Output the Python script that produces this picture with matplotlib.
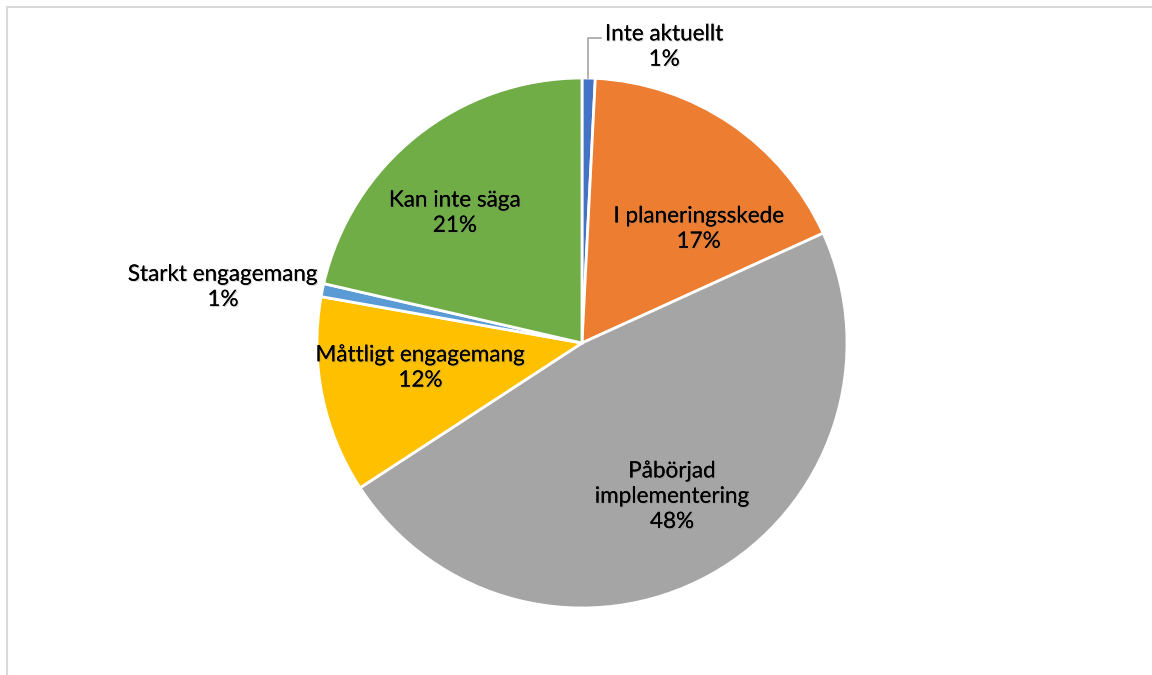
import matplotlib
matplotlib.use("Agg")
import matplotlib.pyplot as plt
import matplotlib.patheffects as pe
from matplotlib.patches import Rectangle

# Data
labels = ["Inte aktuellt", "I planeringsskede", "Påbörjad\nimplementering",
          "Måttligt engagemang", "Starkt engagemang", "Kan inte säga"]
shares = [0.8, 17.4, 47.6, 12.0, 0.8, 21.4]
colors = ["#4472C4", "#ED7D31", "#A5A5A5", "#FFC000", "#5B9BD5", "#70AD47"]

# label positions (in pie radius units)
label_pos = [(0.31, 1.117), (0.44, 0.43), (0.34, -0.58),
             (-0.61, -0.094), (-1.355, 0.21), (-0.48, 0.49)]

W, H = 1152, 675
cx, cy, R = 582, 343, 265

fig = plt.figure(figsize=(W / 100, H / 100), dpi=100)
ax = fig.add_axes([0, 0, 1, 1])
ax.axis("off")

ax.pie(shares, colors=colors, startangle=90, counterclock=False, radius=1,
       wedgeprops=dict(edgecolor="white", linewidth=2))
ax.set_xlim(-cx / R, (W - cx) / R)
ax.set_ylim(-(H - cy) / R, cy / R)
ax.set_aspect("auto")

shadow = [pe.withSimplePatchShadow(offset=(0.8, -0.8), shadow_rgbFace="gray", alpha=0.35), pe.Normal()]
for lab, val, (x, y) in zip(labels, shares, label_pos):
    ax.text(x, y, f"{lab}\n{round(val):.0f}%", ha="center", va="center",
            fontsize=16.2, family="Lato", color="black", linespacing=1.33,
            path_effects=shadow)

# leader line for the small top slice
ax.plot([0.023, 0.023, 0.072], [1.0, 1.151, 1.151], color="#A6A6A6", lw=1.2)

# chart border
fig.patches.append(Rectangle((7 / W, -0.1), 1.2, (H - 7) / H + 0.1, transform=fig.transFigure,
                             fill=False, edgecolor="#D9D9D9", lw=1.5))

fig.savefig("out.png", dpi=100, facecolor="white")
